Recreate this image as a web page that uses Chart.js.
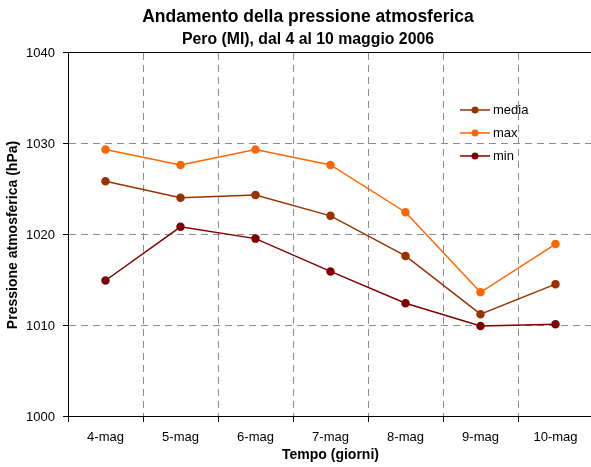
<!DOCTYPE html>
<html><head><meta charset="utf-8">
<script src="https://cdn.jsdelivr.net/npm/chart.js@4"></script>
<style>html,body{margin:0;padding:0;overflow:hidden;background:#fff;width:591px;height:467px}canvas{display:block}</style>
</head><body>
<canvas id="c" width="616" height="467"></canvas>
<script>
const categories = ['4-mag','5-mag','6-mag','7-mag','8-mag','9-mag','10-mag'];
const mediaValues = [1025.9, 1024.1, 1024.4, 1022.1, 1017.7, 1011.3, 1014.6];
const maxValues = [1029.4, 1027.7, 1029.4, 1027.7, 1022.5, 1013.7, 1019.0];
const minValues = [1015.0, 1020.9, 1019.6, 1016.0, 1012.5, 1010.0, 1010.2];
const seriesNames = ['media', 'max', 'min'];
const yTickRange = [1000, 1040, 10];
const titleText = 'Andamento della pressione atmosferica';
const subtitleText = 'Pero (MI), dal 4 al 10 maggio 2006';
const xTitleText = 'Tempo (giorni)';
const yTitleText = 'Pressione atmosferica (hPa)';

const colors = ['#993300', '#FF6600', '#800000'];
const FONT = '"Liberation Sans", Arial, Helvetica, sans-serif';
Chart.defaults.font.family = FONT;
Chart.defaults.color = '#000';

function ds(label, data, color) {
  return {
    label, data,
    borderColor: color, backgroundColor: color,
    pointBackgroundColor: color, pointBorderColor: color,
    borderWidth: 1.5, pointRadius: 3.5, pointHoverRadius: 3.5,
    tension: 0, fill: false
  };
}

const legendPlugin = {
  id: 'insideLegend',
  afterDraw(chart) {
    const ctx = chart.ctx;
    const a = chart.chartArea;
    chart.data.datasets.forEach((d, i) => {
      const y = a.top + 57 + i * 23;
      const x0 = a.left + 392;
      ctx.save();
      ctx.strokeStyle = d.borderColor; ctx.lineWidth = d.borderWidth;
      ctx.beginPath(); ctx.moveTo(x0, y); ctx.lineTo(x0 + 30, y); ctx.stroke();
      ctx.fillStyle = d.pointBackgroundColor;
      ctx.beginPath(); ctx.arc(x0 + 15, y, 3.5, 0, Math.PI * 2); ctx.fill();
      ctx.fillStyle = '#000';
      ctx.font = '13px ' + FONT;
      ctx.textBaseline = 'middle'; ctx.textAlign = 'left';
      ctx.fillText(d.label, x0 + 33, y);
      ctx.restore();
    });
  }
};

new Chart(document.getElementById('c'), {
  type: 'line',
  data: {
    labels: categories,
    datasets: [
      ds(seriesNames[0], mediaValues, colors[0]),
      ds(seriesNames[1], maxValues, colors[1]),
      ds(seriesNames[2], minValues, colors[2])
    ]
  },
  plugins: [legendPlugin],
  options: {
    responsive: false,
    animation: false,
    devicePixelRatio: 1,
    layout: { padding: 0 },
    plugins: {
      legend: { display: false },
      tooltip: { enabled: false },
      title: { display: true, text: titleText, font: { size: 17.5, weight: 'bold' }, padding: { top: 6.5, bottom: 0 }, color: '#000' },
      subtitle: { display: true, text: subtitleText, font: { size: 15.8, weight: 'bold' }, padding: { top: 3, bottom: 3.5 }, color: '#000' }
    },
    scales: {
      x: {
        type: 'category',
        offset: true,
        grid: { offset: true, color: '#8c8c8c', lineWidth: 1, tickLength: 5, tickColor: '#000', tickBorderDash: [] },
        border: { color: '#000', width: 1, dash: [7, 5] },
        ticks: { font: { size: 13 }, padding: 8, maxRotation: 0, autoSkip: false },
        title: { display: true, text: xTitleText, font: { size: 14, weight: 'bold' }, padding: { top: 0, bottom: 3 } },
        afterFit(s) { s.height = 50; }
      },
      x2: {
        type: 'category',
        position: 'top',
        grid: { drawOnChartArea: false, drawTicks: false },
        border: { color: '#000', width: 1 },
        ticks: { display: false },
        afterFit(s) { s.height = 0; }
      },
      y: {
        min: yTickRange[0], max: yTickRange[1],
        ticks: { stepSize: yTickRange[2], font: { size: 13 }, padding: 8, callback: (v) => String(v) },
        grid: { color: '#8c8c8c', lineWidth: 1, tickLength: 5, tickColor: '#000', tickBorderDash: [] },
        border: { color: '#000', width: 1, dash: [7, 5] },
        title: { display: true, text: yTitleText, font: { size: 14, weight: 'bold' }, padding: { top: 5, bottom: 0 } },
        afterFit(s) { s.width = 68; }
      },
      y2: {
        type: 'linear',
        position: 'right',
        grid: { drawOnChartArea: false, drawTicks: false },
        border: { color: '#000', width: 1 },
        ticks: { display: false },
        afterFit(s) { s.width = 23; }
      }
    }
  }
});
</script>
</body></html>
